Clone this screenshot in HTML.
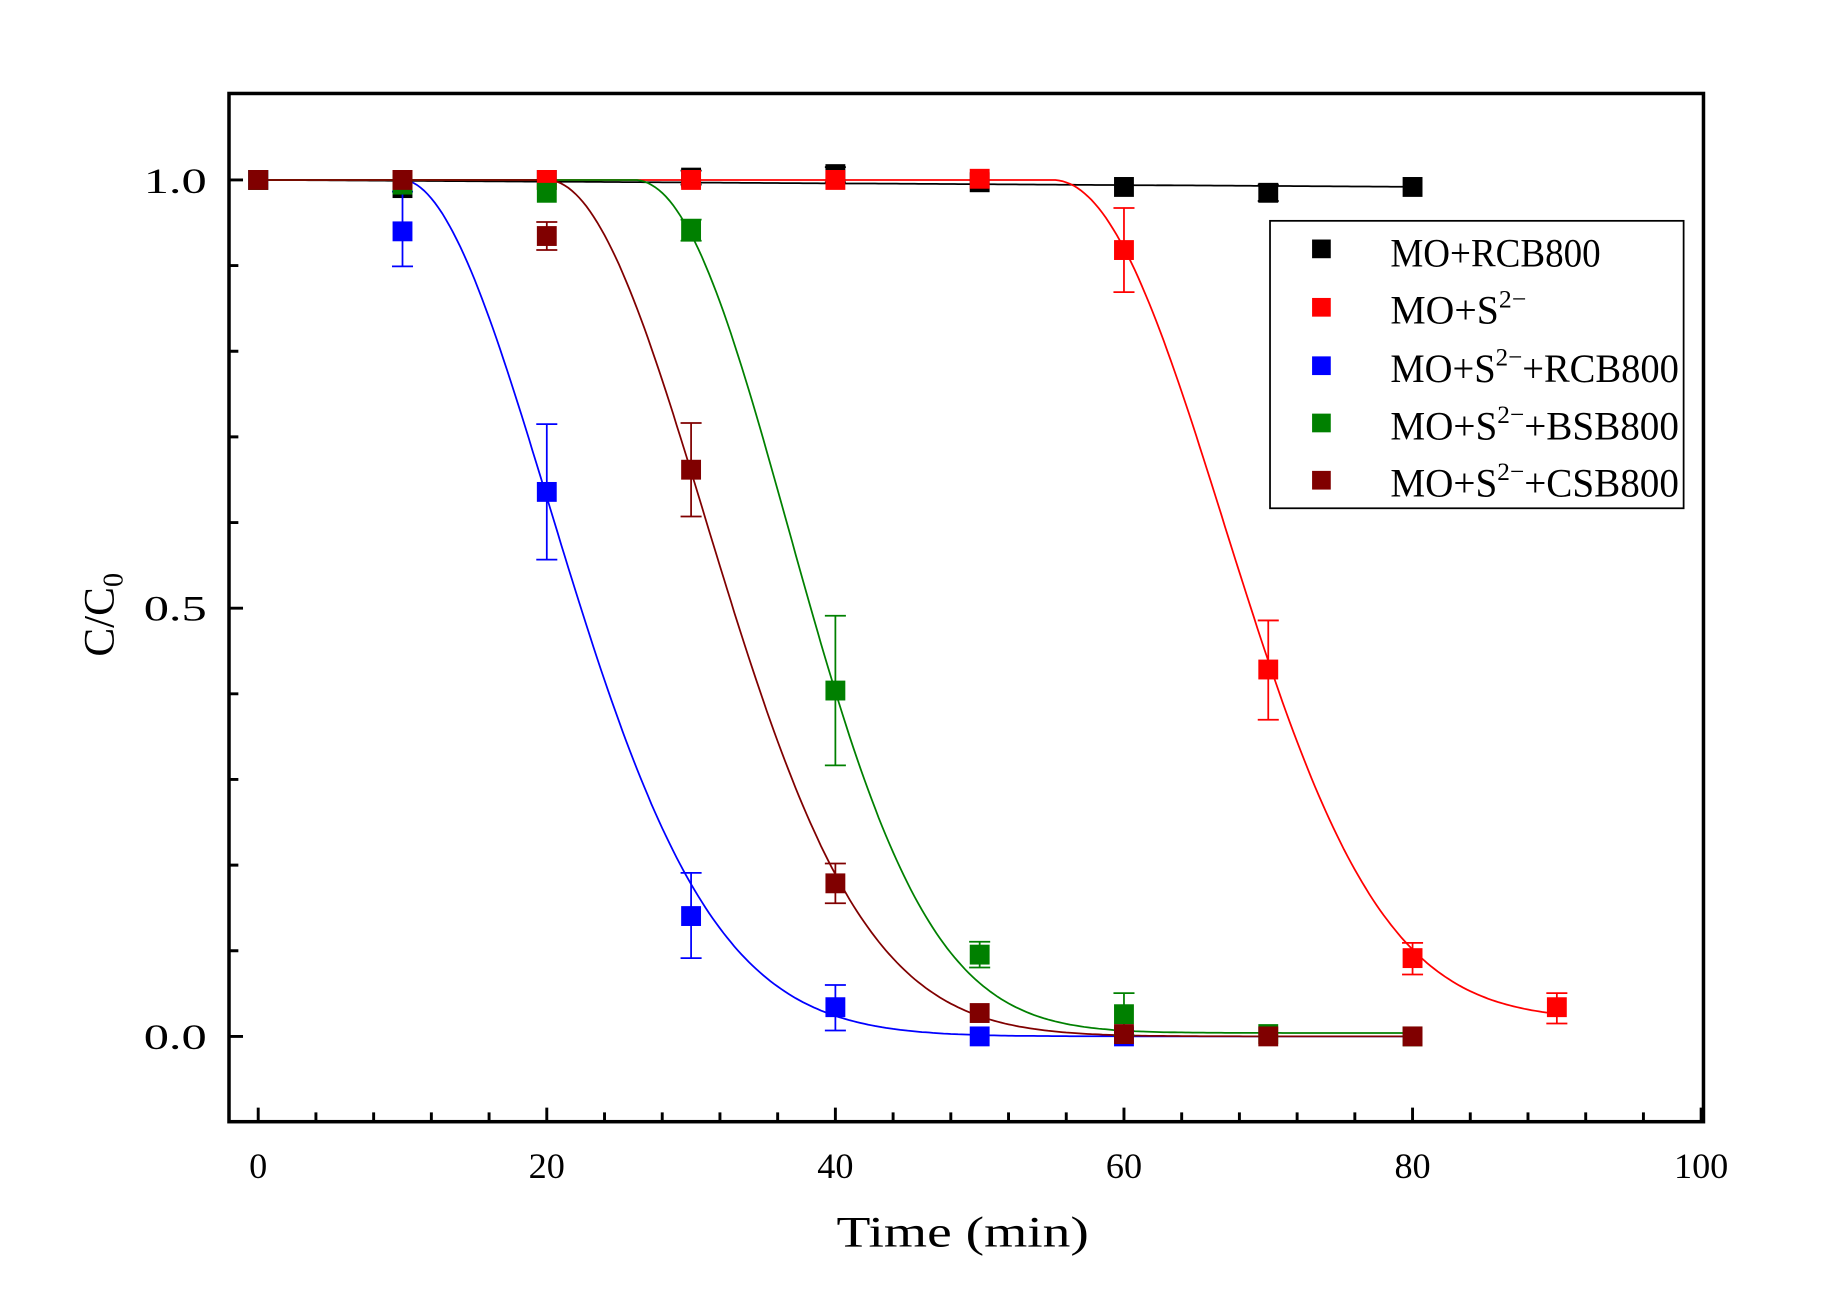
<!DOCTYPE html>
<html><head><meta charset="utf-8"><style>html,body{margin:0;padding:0;background:#fff}svg{display:block}</style></head>
<body>
<svg id="s" width="1832" height="1300" viewBox="0 0 1568 1112.6" preserveAspectRatio="none" xmlns="http://www.w3.org/2000/svg" font-family="Liberation Serif, serif">
<rect x="0" y="0" width="1568" height="1113" fill="#fff"/>
<g id="plot"></g>
<rect x="196" y="80" width="1262" height="880" fill="none" stroke="#000" stroke-width="3"/>
<g font-size="31" fill="#000">
<text x="221" y="1008" text-anchor="middle">0</text>
<text x="468" y="1008" text-anchor="middle">20</text>
<text x="715" y="1008" text-anchor="middle">40</text>
<text x="962" y="1008" text-anchor="middle">60</text>
<text x="1209" y="1008" text-anchor="middle">80</text>
<text x="1456" y="1008" text-anchor="middle">100</text>
<text x="177" y="898" text-anchor="end" textLength="54" lengthAdjust="spacingAndGlyphs">0.0</text>
<text x="177" y="531" text-anchor="end" textLength="54" lengthAdjust="spacingAndGlyphs">0.5</text>
<text x="177" y="165" text-anchor="end" textLength="54" lengthAdjust="spacingAndGlyphs">1.0</text>
<text x="716" y="1067" font-size="37" textLength="216" lengthAdjust="spacingAndGlyphs">Time (min)</text>
<text transform="translate(97,562) rotate(-90)" font-size="37">C/C<tspan font-size="24" dy="8">0</tspan></text>
</g>
<rect x="1087" y="189" width="354" height="246" fill="#fff" stroke="#000" stroke-width="1.5"/>
<g font-size="34">
<rect x="1123" y="205" width="16" height="16" fill="#000"/>
<rect x="1123" y="255" width="16" height="16" fill="#f00"/>
<rect x="1123" y="305" width="16" height="16" fill="#00f"/>
<rect x="1123" y="354" width="16" height="16" fill="#008000"/>
<rect x="1123" y="403" width="16" height="16" fill="#800000"/>
<text x="1190" y="228" textLength="180" lengthAdjust="spacingAndGlyphs">MO+RCB800</text>
<text x="1190" y="277">MO+S<tspan font-size="22" dy="-14">2−</tspan></text>
<text x="1190" y="327" textLength="247" lengthAdjust="spacingAndGlyphs">MO+S<tspan font-size="22" dy="-14">2−</tspan><tspan dy="14">+RCB800</tspan></text>
<text x="1190" y="376" textLength="247" lengthAdjust="spacingAndGlyphs">MO+S<tspan font-size="22" dy="-14">2−</tspan><tspan dy="14">+BSB800</tspan></text>
<text x="1190" y="425" textLength="247" lengthAdjust="spacingAndGlyphs">MO+S<tspan font-size="22" dy="-14">2−</tspan><tspan dy="14">+CSB800</tspan></text>
</g>
</svg>
<script>
(function(){
var g=document.getElementById('plot'),NS='http://www.w3.org/2000/svg';
function X(t){return 221+t*12.35;} function Y(c){return 887-c*733;}
function el(n,a){var e=document.createElementNS(NS,n);for(var k in a)e.setAttribute(k,a[k]);g.appendChild(e);return e;}
var h='';
for(var t=0;t<=100;t+=4){var x=X(t);var L=(t%20==0)?12:8;h+='M'+x+' 960V'+(960-L);}
for(var i=-1;i<=11;i++){var c=i/10;var y=Y(c);if(y<82||y>958)continue;var L=(i%5==0)?12:8;h+='M196 '+y+'H'+(196+L);}
el('path',{d:h,stroke:'#000','stroke-width':2.5,fill:'none'});
function curve(f,t0,t1,col){var d='';for(var t=t0;t<=t1;t+=0.25){d+=(d?'L':'M')+X(t).toFixed(1)+' '+Y(f(t)).toFixed(1);}el('path',{d:d,stroke:col,'stroke-width':1.5,fill:'none'});}
function gm(ts,b,n,fl){return function(t){if(t<=ts)return 1;return fl+(1-fl)*Math.exp(-Math.pow((t-ts)/b,n));};}
curve(function(t){return 1-0.0001*t;},0,80,'#000');
curve(gm(55,16.2,2.1,0.02),0,90,'#f00');
curve(gm(10,15,1.9,0),10,80,'#00f');
curve(gm(26,14.6,2.1,0.004),0,80,'#008000');
curve(gm(20,15.5,2,0),0,80,'#800000');
function pts(col,arr){arr.forEach(function(p){var x=X(p[0]),y=p[1];if(p[2]){el('path',{d:'M'+x+' '+p[2]+'V'+p[3]+'M'+(x-9)+' '+p[2]+'H'+(x+9)+'M'+(x-9)+' '+p[3]+'H'+(x+9),stroke:col,'stroke-width':1.5,fill:'none'});}el('rect',{x:x-8.5,y:y-8.5,width:17,height:17,fill:col});});}
pts('#000',[[0,154],[10,161],[20,154],[30,152,146,158],[40,149,143,156],[50,156],[60,160],[70,165,158,172],[80,160]]);
pts('#f00',[[0,154],[10,154],[20,154],[30,154],[40,154],[50,153],[60,214,178,250],[70,573,531,616],[80,820,807,834],[90,862,850,876]]);
pts('#00f',[[0,154],[10,198,164,228],[20,421,363,479],[30,784,747,820],[40,862,843,882],[50,887],[60,887]]);
pts('#008000',[[0,154],[10,158],[20,165],[30,197,188,206],[40,591,527,655],[50,817,806,828],[60,868,850,886],[70,885],[80,887]]);
pts('#800000',[[0,154],[10,154],[20,202,190,214],[30,402,362,442],[40,756,739,773],[50,867],[60,885],[70,887],[80,887]]);
})();
</script>
</body></html>
